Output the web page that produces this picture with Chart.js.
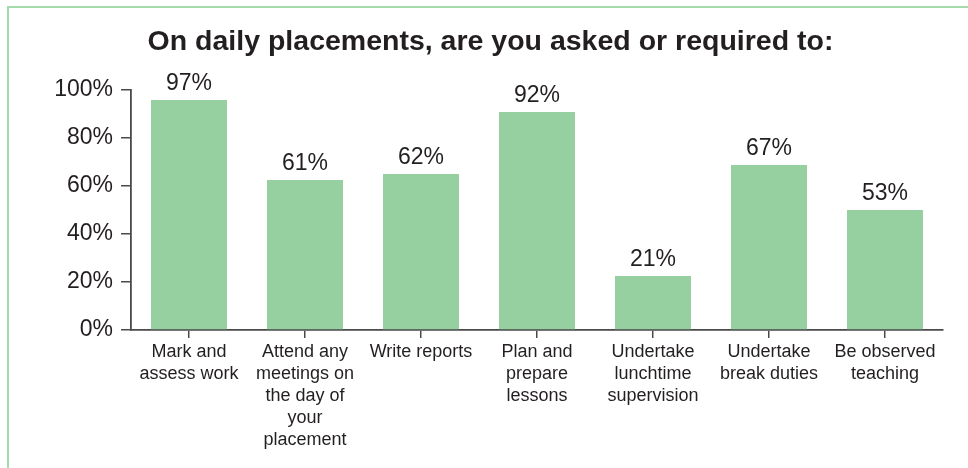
<!DOCTYPE html>
<html>
<head>
<meta charset="utf-8">
<script src="https://cdn.jsdelivr.net/npm/chart.js@4.4.1/dist/chart.umd.min.js"></script>
<style>
  html, body { margin: 0; padding: 0; background: #fff; overflow: hidden; }
  #wrap { position: relative; width: 968px; height: 468px; }
  #frame {
    position: absolute; left: 7px; top: 6px; right: -10px; bottom: -10px;
    border-top: 2px solid #a4dcab; border-left: 2px solid #a4dcab;
  }
  #chart { position: absolute; left: 0; top: 0; }
</style>
</head>
<body>
<div id="wrap">
  <div id="frame"></div>
  <canvas id="chart" width="968" height="468"></canvas>
</div>
<script>
/* chart data */
const categories = [
  ['Mark and', 'assess work'],
  ['Attend any', 'meetings on', 'the day of', 'your', 'placement'],
  ['Write reports'],
  ['Plan and', 'prepare', 'lessons'],
  ['Undertake', 'lunchtime', 'supervision'],
  ['Undertake', 'break duties'],
  ['Be observed', 'teaching'],
];
const barValues   = [95.8, 62.5, 65, 90.8, 22.5, 68.8, 50];
const valueLabels = ['97%', '61%', '62%', '92%', '21%', '67%', '53%'];
const yTicks      = [0, 20, 40, 60, 80, 100];

const TEXT = '#231f20';
const AXIS = '#4a4a4a';
const FONT = "'Liberation Sans', Arial, Helvetica, sans-serif";

/* labels printed above each bar */
const barLabels = {
  id: 'barLabels',
  afterDatasetsDraw(chart){
    const ctx = chart.ctx;
    const meta = chart.getDatasetMeta(0);
    ctx.save();
    ctx.fillStyle = TEXT;
    ctx.font = '23px ' + FONT;
    ctx.textAlign = 'center';
    ctx.textBaseline = 'alphabetic';
    meta.data.forEach((bar, i) => {
      ctx.fillText(valueLabels[i], bar.x, bar.y - 10);
    });
    ctx.restore();
  }
};

new Chart(document.getElementById('chart'), {
  type: 'bar',
  data: {
    labels: categories,
    datasets: [{
      data: barValues,
      backgroundColor: '#96cfa0',
      borderWidth: 0,
      barPercentage: 0.655,
      categoryPercentage: 1,
    }],
  },
  plugins: [barLabels],
  options: {
    responsive: false,
    animation: false,
    layout: { padding: { left: 38, right: 25, top: 0, bottom: 0 } },
    plugins: {
      legend: { display: false },
      tooltip: { enabled: false },
      title: {
        display: true,
        text: 'On daily placements, are you asked or required to:',
        color: TEXT,
        font: { family: FONT, size: 28.5, weight: 'bold', lineHeight: 1.2 },
        padding: { top: 25, bottom: 30.8 },
      },
    },
    scales: {
      x: {
        offset: true,
        grid: { display: true, offset: false, drawOnChartArea: false, drawTicks: true, tickLength: 8, color: AXIS, lineWidth: 1.5 },
        border: { display: true, color: AXIS, width: 1.8 },
        ticks: { color: TEXT, padding: 3, maxRotation: 0, autoSkip: false, font: { family: FONT, size: 18, lineHeight: 22/18 } },
        afterFit: s => { s.height = 138; },
      },
      y: {
        min: 0, max: 100,
        afterBuildTicks: s => { s.ticks = yTicks.map(v => ({ value: v })); },
        grid: { display: true, drawOnChartArea: false, drawTicks: true, tickLength: 10, color: AXIS, lineWidth: 1.5 },
        border: { display: true, color: AXIS, width: 1.8 },
        ticks: { color: TEXT, padding: 8, font: { family: FONT, size: 23 }, callback: v => v + '%' },
        afterFit: s => { s.width = 93; },
      },
    },
  },
});
</script>
</body>
</html>
